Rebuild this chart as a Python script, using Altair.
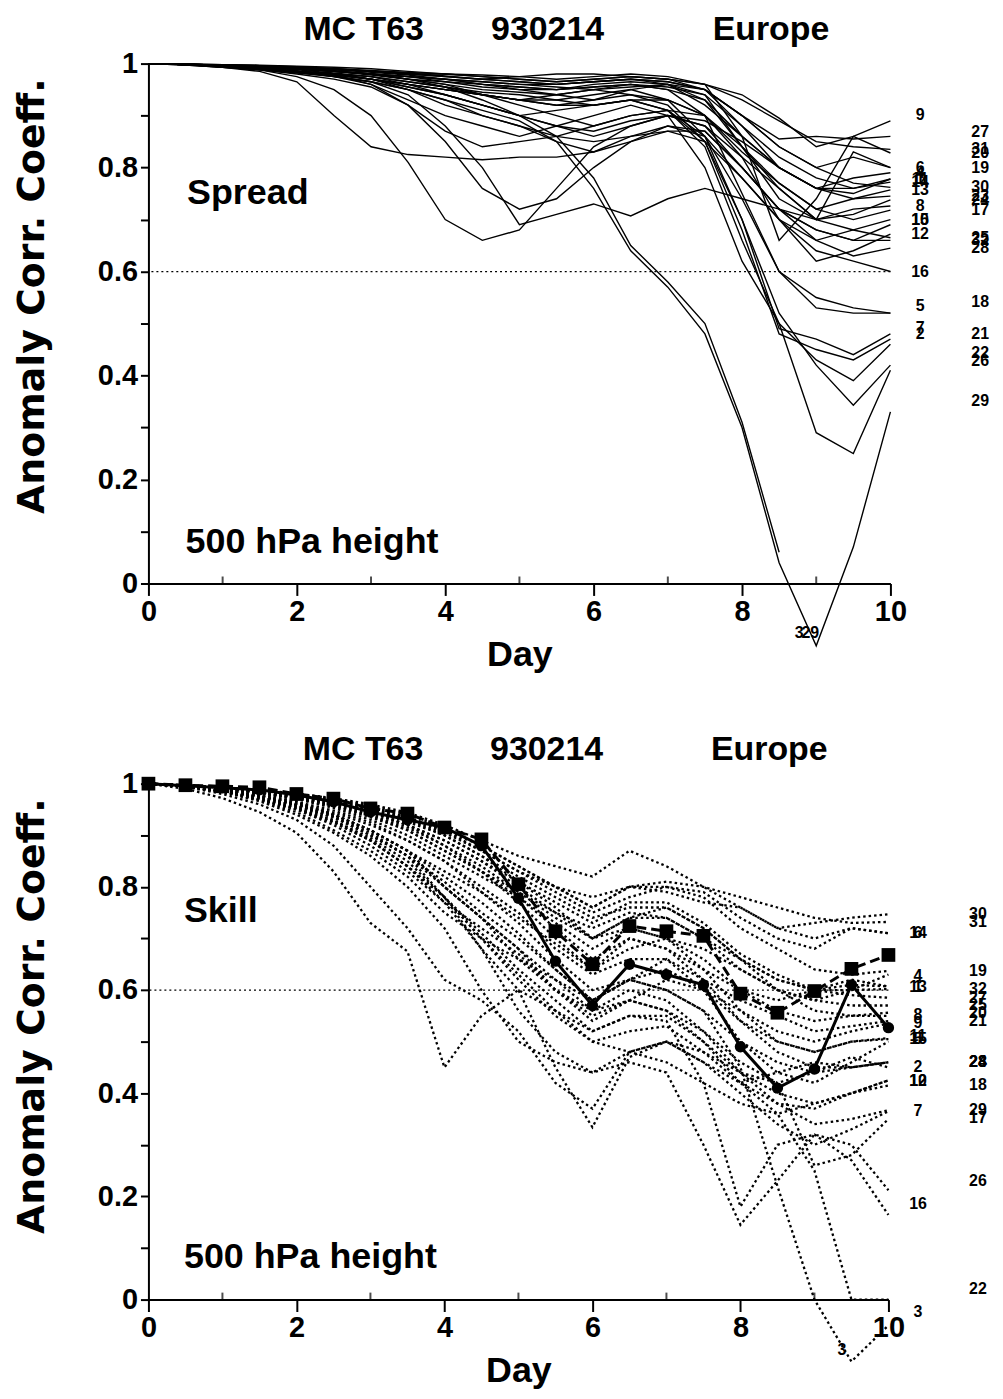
import altair as alt
import pandas as pd

# ---------------- data ----------------
days = [i * 0.5 for i in range(21)]

# Upper panel: "Spread" (members vs control), 32 members, day 0..10 every 0.5 day
spread = {
    1:  [1, .998, .995, .992, .99, .985, .978, .97, .965, .96, .955, .95, .955, .96, .95, .93, .86, .80, .76, .76, .778],
    2:  [1, .998, .995, .99, .985, .98, .97, .96, .95, .94, .93, .94, .95, .94, .92, .85, .70, .49, .47, .44, .48],
    3:  [1, .998, .995, .99, .985, .98, .97, .955, .94, .92, .90, .86, .78, .65, .58, .50, .31, .06, None, None, None],
    4:  [1, .998, .996, .994, .99, .985, .98, .975, .97, .96, .95, .94, .93, .95, .96, .92, .86, .80, .76, .78, .79],
    5:  [1, .998, .995, .99, .985, .98, .975, .96, .95, .94, .92, .90, .88, .90, .91, .86, .74, .60, .55, .53, .52],
    6:  [1, .999, .997, .995, .992, .988, .985, .98, .975, .97, .965, .96, .965, .97, .965, .95, .90, .84, .80, .82, .80],
    7:  [1, .998, .994, .99, .985, .975, .96, .93, .90, .88, .86, .88, .90, .92, .90, .80, .62, .50, .43, .39, .46],
    8:  [1, .998, .994, .988, .975, .95, .90, .81, .70, .66, .68, .76, .84, .88, .90, .88, .82, .76, .70, .72, .726],
    9:  [1, .999, .998, .997, .995, .993, .99, .985, .98, .975, .97, .965, .97, .975, .97, .96, .94, .895, .84, .86, .89],
    10: [1, .998, .995, .99, .985, .98, .97, .96, .94, .92, .90, .88, .87, .89, .90, .88, .80, .72, .66, .68, .70],
    11: [1, .999, .997, .995, .992, .99, .985, .98, .975, .97, .975, .98, .98, .975, .97, .95, .88, .80, .76, .75, .778],
    12: [1, .998, .994, .99, .985, .978, .97, .95, .92, .90, .88, .85, .83, .86, .88, .86, .78, .70, .62, .64, .672],
    13: [1, .998, .996, .993, .99, .985, .98, .97, .96, .94, .93, .92, .93, .94, .93, .90, .83, .77, .72, .74, .757],
    14: [1, .999, .997, .994, .99, .986, .98, .975, .97, .96, .955, .95, .96, .965, .96, .94, .88, .82, .78, .76, .772],
    15: [1, .997, .993, .988, .98, .97, .955, .92, .85, .76, .72, .74, .80, .85, .88, .87, .80, .72, .68, .66, .69],
    16: [1, .998, .995, .992, .988, .982, .975, .965, .955, .945, .94, .93, .92, .93, .93, .90, .82, .70, .64, .62, .60],
    17: [1, .998, .995, .99, .985, .978, .96, .92, .87, .84, .85, .86, .88, .90, .91, .90, .84, .77, .72, .70, .718],
    18: [1, .998, .996, .993, .99, .985, .98, .97, .96, .95, .945, .94, .95, .96, .95, .90, .75, .60, .53, .52, .52],
    19: [1, .999, .997, .995, .99, .985, .98, .975, .965, .955, .95, .95, .955, .96, .955, .94, .84, .76, .70, .83, .80],
    20: [1, .999, .997, .995, .993, .99, .985, .98, .98, .975, .97, .965, .97, .975, .97, .96, .86, .66, .74, .86, .828],
    21: [1, .998, .994, .99, .985, .978, .97, .955, .94, .92, .90, .91, .92, .93, .91, .85, .68, .48, .45, .43, .47],
    22: [1, .998, .995, .991, .986, .98, .97, .96, .95, .94, .93, .93, .94, .95, .93, .86, .70, .52, .42, .343, .42],
    23: [1, .999, .997, .994, .99, .986, .98, .97, .955, .93, .90, .88, .86, .88, .90, .89, .85, .80, .76, .74, .745],
    24: [1, .998, .995, .99, .983, .975, .965, .94, .88, .80, .69, .71, .73, .707, .74, .76, .74, .72, .70, .71, .738],
    25: [1, .999, .996, .993, .99, .985, .98, .975, .97, .965, .96, .96, .965, .97, .96, .93, .84, .74, .70, .68, .665],
    26: [1, .998, .995, .99, .985, .98, .975, .965, .955, .94, .93, .92, .92, .93, .91, .84, .66, .50, .29, .25, .41],
    27: [1, .999, .998, .996, .994, .99, .986, .982, .976, .97, .965, .96, .965, .97, .965, .95, .90, .855, .86, .855, .86],
    28: [1, .998, .995, .99, .984, .976, .965, .95, .93, .90, .88, .86, .85, .86, .87, .85, .78, .70, .66, .63, .645],
    29: [1, .997, .993, .988, .982, .975, .965, .95, .93, .91, .89, .85, .76, .64, .57, .48, .30, .04, -.12, .07, .33],
    30: [1, .999, .997, .995, .992, .988, .983, .978, .97, .965, .96, .955, .95, .955, .96, .95, .90, .84, .80, .77, .762],
    31: [1, .999, .998, .996, .993, .99, .987, .983, .98, .978, .975, .97, .975, .98, .975, .96, .93, .89, .85, .84, .835],
    32: [1, .998, .993, .985, .965, .90, .84, .825, .82, .815, .82, .82, .83, .85, .87, .87, .80, .72, .68, .66, .66],
}
spread_label_value = {
    1: .778, 2: .48, 4: .79, 5: .533, 6: .80, 7: .492, 8: .726, 9: .902, 10: .70, 11: .778,
    12: .672, 13: .757, 14: .772, 15: .70, 16: .60,
    17: .718, 18: .542, 19: .80, 20: .828, 21: .479, 22: .443, 23: .745, 24: .738, 25: .665,
    26: .427, 27: .868, 28: .645, 29: .35, 30: .762, 31: .835, 32: .66,
}
spread_extra_labels = ["3", "29"]
spread_extra_days = [8.77, 8.92]
spread_extra_values = [-0.096, -0.096]

# Lower panel: "Skill" (members vs analysis), dotted
skill = {
    1:  [1, .996, .99, .98, .965, .94, .91, .87, .83, .79, .74, .69, .64, .70, .68, .64, .60, .58, .60, .62, .607],
    2:  [1, .995, .985, .97, .95, .92, .88, .83, .77, .72, .67, .60, .55, .58, .56, .52, .46, .42, .44, .47, .45],
    3:  [1, .995, .985, .968, .945, .91, .87, .82, .75, .70, .66, .62, .58, .62, .60, .56, .45, .22, .0, -.12, -.05],
    4:  [1, .996, .99, .984, .975, .962, .945, .92, .88, .84, .79, .74, .70, .74, .76, .72, .66, .60, .58, .60, .63],
    5:  [1, .995, .987, .975, .958, .935, .90, .86, .81, .75, .70, .64, .58, .62, .64, .60, .54, .50, .48, .50, .505],
    6:  [1, .997, .993, .987, .979, .968, .955, .935, .91, .87, .83, .79, .75, .78, .80, .79, .74, .70, .68, .72, .71],
    7:  [1, .994, .98, .96, .93, .88, .80, .72, .62, .58, .52, .42, .37, .48, .50, .46, .40, .34, .30, .33, .365],
    8:  [1, .996, .99, .982, .97, .953, .93, .90, .86, .82, .78, .73, .68, .72, .70, .66, .60, .56, .54, .55, .55],
    9:  [1, .995, .987, .976, .96, .94, .91, .87, .80, .74, .68, .60, .54, .58, .62, .60, .56, .52, .50, .52, .535],
    10: [1, .995, .986, .973, .955, .93, .89, .84, .77, .68, .60, .45, .334, .47, .50, .48, .44, .40, .38, .40, .425],
    11: [1, .996, .99, .982, .971, .956, .935, .91, .87, .83, .79, .75, .70, .72, .70, .64, .56, .50, .48, .50, .507],
    12: [1, .99, .972, .945, .905, .83, .73, .675, .45, .55, .60, .56, .52, .55, .55, .50, .42, .38, .37, .40, .425],
    13: [1, .996, .99, .983, .973, .96, .944, .92, .89, .85, .81, .77, .73, .77, .77, .73, .67, .63, .60, .61, .607],
    14: [1, .997, .993, .988, .98, .97, .957, .94, .915, .88, .84, .80, .76, .80, .79, .77, .76, .72, .70, .72, .71],
    15: [1, .995, .987, .976, .96, .94, .91, .87, .82, .77, .71, .64, .58, .62, .66, .60, .50, .44, .42, .46, .50],
    16: [1, .995, .985, .972, .953, .928, .895, .85, .78, .71, .64, .58, .52, .55, .54, .42, .18, .30, .32, .27, .164],
    17: [1, .995, .987, .976, .96, .94, .91, .87, .80, .74, .66, .60, .56, .58, .56, .50, .44, .42, .26, .28, .35],
    18: [1, .994, .984, .97, .952, .925, .89, .84, .78, .70, .62, .55, .50, .48, .46, .42, .38, .36, .38, .40, .415],
    19: [1, .996, .991, .985, .977, .966, .952, .934, .91, .88, .84, .80, .76, .80, .80, .78, .72, .68, .64, .63, .637],
    20: [1, .996, .99, .983, .972, .958, .94, .915, .88, .83, .77, .70, .64, .68, .70, .68, .64, .60, .56, .55, .556],
    21: [1, .995, .988, .978, .965, .948, .925, .89, .85, .80, .75, .68, .63, .66, .66, .62, .58, .55, .52, .53, .54],
    22: [1, .995, .985, .97, .95, .925, .89, .84, .78, .70, .63, .56, .50, .52, .53, .48, .42, .36, .25, .0, .0],
    23: [1, .995, .987, .977, .962, .944, .92, .89, .85, .79, .73, .66, .60, .62, .60, .56, .50, .46, .44, .45, .46],
    24: [1, .996, .99, .983, .972, .958, .938, .91, .87, .83, .78, .72, .66, .70, .68, .62, .54, .48, .45, .45, .46],
    25: [1, .996, .991, .985, .976, .965, .95, .93, .90, .86, .81, .76, .70, .74, .74, .70, .64, .60, .58, .57, .57],
    26: [1, .995, .986, .974, .957, .935, .90, .86, .78, .68, .56, .48, .44, .46, .44, .30, .145, .23, .32, .30, .212],
    27: [1, .996, .991, .984, .975, .963, .947, .926, .90, .86, .82, .78, .74, .76, .76, .72, .66, .62, .60, .59, .585],
    28: [1, .994, .984, .966, .94, .905, .86, .80, .72, .60, .50, .46, .44, .48, .50, .46, .42, .44, .46, .45, .46],
    29: [1, .995, .986, .975, .958, .936, .905, .86, .80, .74, .68, .62, .56, .60, .58, .52, .44, .38, .34, .35, .367],
    30: [1, .997, .993, .988, .981, .972, .96, .944, .92, .89, .86, .84, .82, .87, .84, .80, .76, .72, .73, .74, .747],
    31: [1, .996, .992, .986, .978, .967, .952, .932, .905, .87, .83, .80, .78, .80, .81, .80, .78, .76, .74, .73, .732],
    32: [1, .996, .991, .984, .975, .962, .945, .92, .89, .85, .80, .75, .72, .75, .74, .70, .66, .62, .60, .60, .602],
}
skill_label_value = {
    1: .606, 2: .45, 3: -.025, 4: .627, 5: .505, 6: .71, 7: .365, 8: .552, 9: .537, 10: .423,
    11: .51, 12: .423, 13: .606, 14: .71, 15: .505, 16: .185,
    17: .351, 18: .415, 19: .637, 20: .556, 21: .54, 22: .02, 23: .46, 24: .46, 25: .57,
    26: .23, 27: .585, 28: .46, 29: .367, 30: .747, 31: .732, 32: .602,
}
skill_extra_labels = ["3"]
skill_extra_days = [9.37]
skill_extra_values = [-0.097]

# thick curves of the lower panel
circle_curve = [1, .996, .992, .988, .978, .965, .945, .93, .915, .88, .778, .656, .57, .65, .63, .61, .49, .41, .447, .61, .527]
square_curve = [1, .997, .995, .993, .98, .971, .952, .942, .915, .892, .805, .714, .65, .724, .714, .705, .593, .556, .598, .641, .668]

title_words = ["MC T63", "930214", "Europe"]
title_days = [2.9, 5.38, 8.39]
reference_level = 0.6
minor_days = [1, 3, 5, 7, 9]

# ---------------- helpers ----------------
FONT = "Liberation Sans"
COL1_DAY, COL2_DAY = 10.40, 11.21


def long_table(members):
    rows = []
    for m, vals in members.items():
        for d, v in zip(days, vals):
            if v is not None:
                rows.append({"day": d, "acc": v, "member": m})
    return pd.DataFrame(rows)


def label_table(label_values, extra_text, extra_days, extra_values):
    rows = []
    for m, v in label_values.items():
        rows.append({"day": COL1_DAY if m <= 16 else COL2_DAY, "acc": v, "txt": str(m)})
    for t, d, v in zip(extra_text, extra_days, extra_values):
        rows.append({"day": d, "acc": v, "txt": t})
    return pd.DataFrame(rows)


x_axis = alt.Axis(
    values=[0, 2, 4, 6, 8, 10],
    format="d",
    labelFlush=False,
    tickSize=12,
    tickWidth=2, tickColor="black", domainColor="black", domainWidth=2,
    labelFont=FONT, labelFontSize=29, labelFontWeight="bold", labelColor="black", labelPadding=2,
    title="Day", titleFont=FONT, titleFontSize=36, titleFontWeight="bold", titleColor="black",
    titleY=71, titleBaseline="middle", grid=False,
)
y_axis = alt.Axis(
    values=[round(i * 0.1, 1) for i in range(11)],
    labelExpr="round(datum.value*10) % 2 == 0 ? (datum.value == 0 ? '0' : (datum.value == 1 ? '1' : format(datum.value, '.1f'))) : ''",
    labelFlush=False,
    tickSize=8, tickWidth=2, tickColor="black", domainColor="black", domainWidth=2,
    labelFont=FONT, labelFontSize=29, labelFontWeight="bold", labelColor="black", labelPadding=3,
    title="Anomaly Corr. Coeff.", titleFont="DejaVu Sans", titleFontSize=38, titleFontWeight="bold",
    titleColor="black", titleX=-116, titleY=233, titleAngle=270, titleAlign="center",
    titleBaseline="middle", grid=False,
)


def panel(members, dotted, labels_df, annot, width, height, extra_layers=()):
    df = long_table(members)
    xs = alt.X("day:Q", scale=alt.Scale(domain=[0, 10], nice=False, zero=False), axis=x_axis)
    ys = alt.Y("acc:Q", scale=alt.Scale(domain=[0, 1], nice=False, zero=False), axis=y_axis)

    line_kw = dict(color="black", strokeWidth=1.4)
    if dotted:
        line_kw = dict(color="black", strokeWidth=2.3, strokeDash=[2.5, 3])
    lines = alt.Chart(df).mark_line(**line_kw).encode(x=xs, y=ys, detail="member:N")

    ref = alt.Chart(pd.DataFrame({"acc": [reference_level]})).mark_rule(
        color="black", strokeWidth=1.2, strokeDash=[2, 3]
    ).encode(y="acc:Q")

    # small inward minor ticks on the day axis (odd days)
    minor = alt.Chart(pd.DataFrame({"day": minor_days, "acc": [0.0] * len(minor_days)})).mark_tick(
        color="black", thickness=2, size=7, orient="vertical", yOffset=-3.5
    ).encode(x="day:Q", y="acc:Q")

    labs = alt.Chart(labels_df).mark_text(
        font=FONT, fontSize=16, fontWeight="bold", color="black", align="center", baseline="middle"
    ).encode(x="day:Q", y="acc:Q", text="txt:N")

    head = alt.Chart(pd.DataFrame({"day": title_days, "acc": [1.065] * 3, "txt": title_words})).mark_text(
        font=FONT, fontSize=34, fontWeight="bold", color="black", align="center", baseline="middle"
    ).encode(x="day:Q", y="acc:Q", text="txt:N")

    ann = alt.Chart(pd.DataFrame(annot)).mark_text(
        font=FONT, fontSize=36, fontWeight="bold", color="black", align="left", baseline="middle"
    ).encode(x="day:Q", y="acc:Q", text="txt:N")

    layers = [lines, ref, minor] + list(extra_layers) + [labs, head, ann]
    return alt.layer(*layers).properties(
        width=width, height=height, view=alt.ViewBackground(strokeWidth=0, stroke="transparent")
    )


# thick curves in the skill panel
thick = pd.DataFrame({
    "day": days * 2,
    "acc": circle_curve + square_curve,
    "curve": ["circle"] * 21 + ["square"] * 21,
})
circ_df = thick[thick.curve == "circle"]
sq_df = thick[thick.curve == "square"]
circ_line = alt.Chart(circ_df).mark_line(color="black", strokeWidth=3).encode(x="day:Q", y="acc:Q")
circ_pts = alt.Chart(circ_df).mark_circle(color="black", size=130, opacity=1).encode(x="day:Q", y="acc:Q")
sq_line = alt.Chart(sq_df).mark_line(color="black", strokeWidth=3, strokeDash=[10, 5]).encode(x="day:Q", y="acc:Q")
sq_pts = alt.Chart(sq_df).mark_square(color="black", size=190, opacity=1).encode(x="day:Q", y="acc:Q")

top = panel(
    spread, False,
    label_table(spread_label_value, spread_extra_labels, spread_extra_days, spread_extra_values),
    {"day": [0.52, 0.5], "acc": [0.751, 0.079], "txt": ["Spread", "500 hPa height"]},
    745, 522,
)
bottom = panel(
    skill, True,
    label_table(skill_label_value, skill_extra_labels, skill_extra_days, skill_extra_values),
    {"day": [0.48, 0.48], "acc": [0.753, 0.083], "txt": ["Skill", "500 hPa height"]},
    743, 518,
    extra_layers=(sq_line, circ_line, sq_pts, circ_pts),
)

chart = alt.vconcat(top, bottom, spacing=61).configure_view(
    strokeWidth=0, stroke="transparent"
).configure(
    padding={"left": 5, "top": 2, "right": 5, "bottom": 5}, background="white"
)

chart.save("out.html", embed_options={"renderer": "svg", "actions": False})
